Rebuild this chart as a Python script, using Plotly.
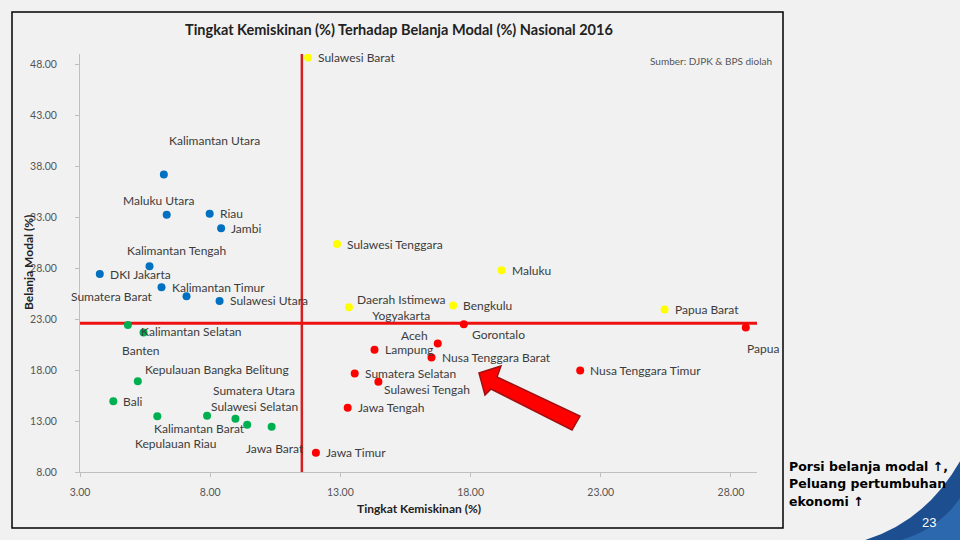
import plotly.graph_objects as go

# ---------------- data ----------------
provinces = [
    "Kalimantan Utara", "Maluku Utara", "Riau", "Jambi", "Kalimantan Tengah",
    "DKI Jakarta", "Kalimantan Timur", "Sumatera Barat", "Sulawesi Utara",
    "Kalimantan Selatan", "Banten", "Kepulauan Bangka Belitung", "Bali",
    "Kepulauan Riau", "Kalimantan Barat", "Sulawesi Selatan", "Sumatera Utara",
    "Jawa Barat",
    "Sulawesi Barat", "Sulawesi Tenggara", "Daerah Istimewa<br>Yogyakarta",
    "Bengkulu", "Maluku", "Papua Barat",
    "Gorontalo", "Papua", "Aceh", "Lampung", "Nusa Tenggara Barat",
    "Sumatera Selatan", "Sulawesi Tengah", "Jawa Tengah", "Jawa Timur",
    "Nusa Tenggara Timur",
]
poverty = [
    6.22, 6.33, 7.98, 8.42, 5.67,
    3.76, 6.13, 7.09, 8.36,
    4.84, 5.44, 5.22, 4.28,
    5.97, 7.88, 8.97, 9.42,
    10.36,
    11.76, 12.87, 13.33,
    17.33, 19.19, 25.45,
    17.74, 28.57, 16.74, 14.31, 16.50,
    13.55, 14.46, 13.28, 12.06,
    22.21,
]
capex = [
    37.19, 33.24, 33.34, 31.90, 28.18,
    27.42, 26.12, 25.24, 24.78,
    22.43, 21.68, 16.91, 14.95,
    13.48, 13.51, 13.22, 12.63,
    12.44,
    48.65, 30.36, 24.16,
    24.33, 27.78, 23.93,
    22.50, 22.17, 20.60, 19.98, 19.23,
    17.67, 16.85, 14.30, 9.89,
    17.96,
]
quadrant = (["high capex / low poverty"] * 9 + ["low capex / low poverty"] * 9 +
            ["high capex / high poverty"] * 6 + ["low capex / high poverty"] * 10)

national_poverty = 11.52
national_capex = 22.60

x_ticks = [3, 8, 13, 18, 23, 28]
y_ticks = [8, 13, 18, 23, 28, 33, 38, 43, 48]

note_lines = ["Porsi belanja modal ↑,", "Peluang pertumbuhan", "ekonomi ↑"]

# ---------------- styles ----------------
colors = {
    "high capex / low poverty": "#0070c0",
    "low capex / low poverty": "#00b050",
    "high capex / high poverty": "#ffff00",
    "low capex / high poverty": "#ff0000",
}
# label placement: (xanchor, xshift px, yshift px)
label_place = {
    "Kalimantan Utara": ("center", 51, 34),
    "Maluku Utara": ("center", -8, 14),
    "Kalimantan Tengah": ("center", 27, 16),
    "Sumatera Barat": ("right", -32, 0),
    "Kalimantan Selatan": ("left", 11, -7),
    "Banten": ("center", -3, -18),
    "Kepulauan Bangka Belitung": ("left", 5, 12),
    "Kepulauan Riau": ("center", 18, -27),
    "Kalimantan Barat": ("center", -8, -13),
    "Sulawesi Selatan": ("center", 19, 12),
    "Sumatera Utara": ("center", 7, 34),
    "Jawa Barat": ("center", 3, -22),
    "Daerah Istimewa<br>Yogyakarta": ("center", 53, 0),
    "Gorontalo": ("left", 6, -10),
    "Papua": ("left", -1, -21),
    "Aceh": ("right", -8, 8),
    "Sulawesi Tengah": ("left", 4, -8),
}

BG = "#f1f1f1"
FONT = "Lato"
W, H = 960, 540
L, R, T, B = 80, 203, 54, 68
PW, PH = W - L - R, H - T - B


def px(xp):
    return (xp - L) / PW


def py(yp):
    return (H - B - yp) / PH


fig = go.Figure()

# reference lines
fig.add_trace(go.Scatter(x=[national_poverty, national_poverty], y=[8, 49], mode="lines",
                         line=dict(color="#d21f1f", width=2.5), hoverinfo="skip",
                         showlegend=False))
fig.add_trace(go.Scatter(x=[3, 29], y=[national_capex, national_capex], mode="lines",
                         line=dict(color="#ee1111", width=3), hoverinfo="skip",
                         showlegend=False))

for q, c in colors.items():
    idx = [i for i, g in enumerate(quadrant) if g == q]
    fig.add_trace(go.Scatter(
        x=[poverty[i] for i in idx], y=[capex[i] for i in idx],
        mode="markers", marker=dict(color=c, size=8, line=dict(width=0)),
        text=[provinces[i] for i in idx], showlegend=False, name=q,
    ))

annotations = []
for name, xv, yv in zip(provinces, poverty, capex):
    anc, xs, ys = label_place.get(name, ("left", 8, 0))
    annotations.append(dict(
        x=xv, y=yv, xref="x", yref="y", text=name, showarrow=False,
        xanchor=anc, yanchor="middle", xshift=xs, yshift=ys, align="center",
        font=dict(family=FONT, size=12, color="#3c3c3c"),
    ))

annotations += [
    dict(x=px(398.5), y=py(30), xref="paper", yref="paper", showarrow=False,
         text="<b>Tingkat Kemiskinan (%) Terhadap Belanja Modal (%) Nasional 2016</b>",
         xanchor="center", yanchor="middle",
         font=dict(family=FONT, size=14.5, color="#222222")),
    dict(x=px(774), y=py(61), xref="paper", yref="paper", showarrow=False,
         text="Sumber: DJPK & BPS diolah", xanchor="right", yanchor="middle",
         font=dict(family=FONT, size=10, color="#555555")),
    dict(x=px(28), y=py(263), xref="paper", yref="paper", showarrow=False,
         text="<b>Belanja Modal (%)</b>", textangle=-90, xanchor="center", yanchor="middle",
         font=dict(family=FONT, size=12, color="#222222")),
    dict(x=px(419), y=py(508), xref="paper", yref="paper", showarrow=False,
         text="<b>Tingkat Kemiskinan (%)</b>", xanchor="center", yanchor="middle",
         font=dict(family=FONT, size=12, color="#222222")),
    dict(x=px(929), y=py(522), xref="paper", yref="paper", showarrow=False,
         text="23", xanchor="center", yanchor="middle",
         font=dict(family="Liberation Sans", size=13, color="#ffffff")),
]
for line_txt, ypix in zip(note_lines, [466, 484, 501]):
    annotations.append(dict(
        x=px(787), y=py(ypix), xref="paper", yref="paper", showarrow=False,
        text=f"<b>{line_txt}</b>", xanchor="left", yanchor="middle", align="left",
        font=dict(family="DejaVu Sans", size=12.5, color="#000000")))

arrow_px = [(479, 373), (501, 366), (497, 377), (580, 416), (572, 430), (491, 389), (485, 395)]
arrow_path = "M " + " L ".join(
    f"{3 + (a - L) / (PW / 26):.3f},{8 + (H - B - b) / (PH / 41):.3f}" for a, b in arrow_px) + " Z"

shapes = [
    # chart frame
    dict(type="rect", xref="paper", yref="paper", x0=px(12), x1=px(783), y0=py(528), y1=py(12),
         line=dict(color="#000000", width=1.5), fillcolor="rgba(0,0,0,0)", layer="below"),
    # blue swoosh
    dict(type="path", xref="paper", yref="paper",
         path=f"M {px(845):.4f},{py(545):.4f} Q {px(925):.4f},{py(530):.4f} {px(965):.4f},{py(452):.4f} "
              f"L {px(965):.4f},{py(545):.4f} Z",
         fillcolor="#1d4f90", line=dict(width=0), layer="below"),
    dict(type="path", xref="paper", yref="paper",
         path=f"M {px(880):.4f},{py(545):.4f} Q {px(940):.4f},{py(535):.4f} {px(965):.4f},{py(490):.4f} "
              f"L {px(965):.4f},{py(545):.4f} Z",
         fillcolor="#2c68ae", line=dict(width=0), layer="below"),
    # red arrow
    dict(type="path", xref="x", yref="y", path=arrow_path,
         fillcolor="#ff0000", line=dict(color="#a01010", width=1.5)),
]

axis_common = dict(showgrid=False, zeroline=False, showline=True, linecolor="#bfbfbf",
                   linewidth=1, ticks="outside", ticklen=4, tickcolor="#bfbfbf",
                   tickformat=".2f", tickfont=dict(family=FONT, size=10.5, color="#555555"))

fig.update_layout(
    width=W, height=H,
    margin=dict(l=L, r=R, t=T, b=B, autoexpand=False),
    paper_bgcolor=BG, plot_bgcolor=BG,
    xaxis=dict(range=[3, 29], tickvals=x_ticks, ticklabelstandoff=6, **axis_common),
    yaxis=dict(range=[8, 49], tickvals=y_ticks, ticklabelstandoff=16, **axis_common),
    annotations=annotations, shapes=shapes, showlegend=False,
)

fig.write_html(
    "out.html",
    config={"displayModeBar": False},
    post_script="document.body.style.margin='0';document.body.style.overflow='hidden';"
                "document.body.style.background='" + BG + "';",
)
